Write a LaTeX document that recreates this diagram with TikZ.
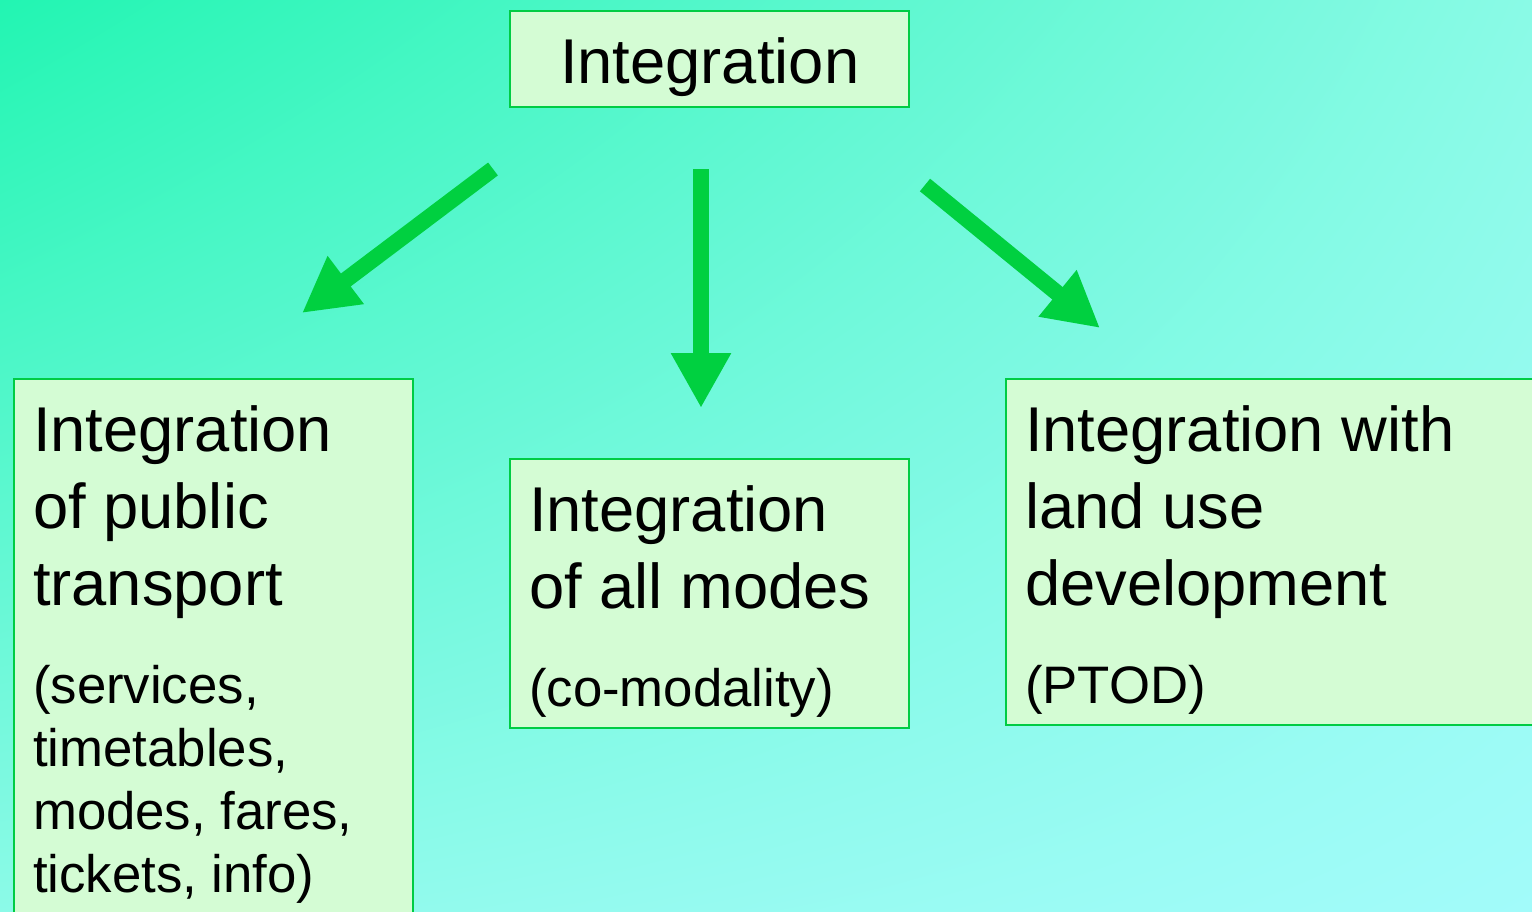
\documentclass[tikz,border=0pt]{standalone}
\usepackage{fontspec}
\setmainfont{Liberation Sans}
\usetikzlibrary{arrows.meta, positioning, shadings}
\definecolor{bgtl}{RGB}{34, 245, 178}
\definecolor{bgtr}{RGB}{138, 250, 230}
\definecolor{bgbl}{RGB}{140, 250, 232}
\definecolor{bgbr}{RGB}{162, 251, 250}
\definecolor{boxfill}{RGB}{212, 252, 212}
\definecolor{boxline}{RGB}{0, 204, 68}
\definecolor{flowgreen}{RGB}{0, 208, 64}
\newcommand{\headsize}{\fontsize{18}{21.9}\selectfont}
\newcommand{\notesize}{\fontsize{15}{17.9}\selectfont}

\begin{document}
\begin{tikzpicture}[x=0.01cm, y=-0.01cm,
  ibox/.style={draw=boxline, line width=0.6pt, fill=boxfill, anchor=north west, text width=3.61cm, align=left, inner xsep=0.19cm, inner ysep=0pt, text height=0.72cm, font=\headsize,
    execute at begin node={\spaceskip=0pt\xspaceskip=0pt\frenchspacing}},
  flow/.style={draw=flowgreen, line width=4.6pt, -{Triangle[length=15.6pt, width=16pt]}}
]
  \useasboundingbox (0,0) rectangle (1532,912);
  \shade[upper left=bgtl, upper right=bgtr, lower left=bgbl, lower right=bgbr] (0,0) rectangle (1532,912);

  \node[ibox, align=center, text depth=0.24cm] (integ) at (509,10) {Integration};
  \node[ibox, text depth=5cm] (ptrans) at (13,378) {
    Integration\\of public\\transport\par\vspace{10pt}
    \notesize (services,\\timetables,\\modes, fares,\\tickets, info)\par
  };
  \node[ibox, text depth=1.97cm] (modes) at (509,458) {
    Integration\\of all modes\par\vspace{10pt}
    \notesize (co-modality)\par
  };
  \node[ibox, text width=5.2cm, text depth=2.74cm] (landuse) at (1005,378) {
    Integration with\\land use\\development\par\vspace{10pt}
    \notesize (PTOD)\par
  };

  % arrows
  \coordinate (ptfrom) at (493,169);
  \coordinate (ptto) at (302,313);
  \coordinate (mdfrom) at (701,169);
  \coordinate (mdto) at (701,408);
  \coordinate (lufrom) at (925,185);
  \coordinate (luto) at (1100,328);
  \draw[flow] (ptfrom) -- (ptto);
  \draw[flow] (mdfrom) -- (mdto);
  \draw[flow] (lufrom) -- (luto);
\end{tikzpicture}
\end{document}
